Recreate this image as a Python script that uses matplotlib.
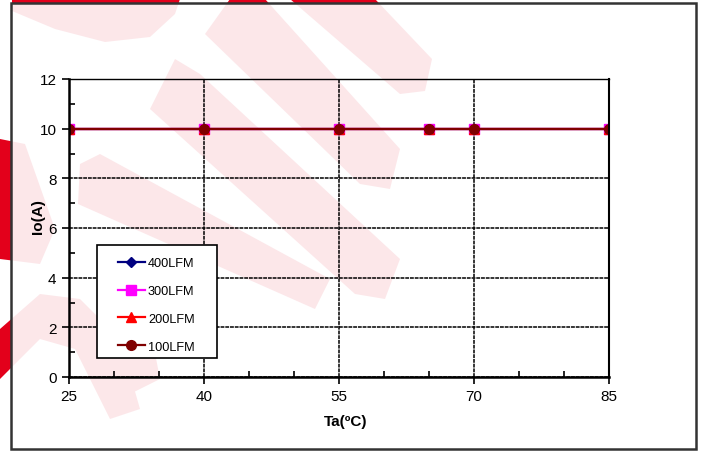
import matplotlib
matplotlib.use("Agg")
import matplotlib.pyplot as plt
from matplotlib.patches import Rectangle, Polygon
from matplotlib.ticker import MultipleLocator

plt.rcParams['font.family'] = ['Liberation Sans', 'DejaVu Sans']

# data
ta = [25, 40, 55, 65, 70, 85]
io_400 = [10, 10, 10, 10, 10, 10]
io_300 = [10, 10, 10, 10, 10, 10]
io_200 = [10, 10, 10, 10, 10, 10]
io_100 = [10, 10, 10, 10, 10, 10]
series = ['400LFM', '300LFM', '200LFM', '100LFM']
x_ticks = [25, 40, 55, 70, 85]

W, H = 702, 452
fig = plt.figure(figsize=(W / 100, H / 100), dpi=100)
fig.patch.set_facecolor('white')

# background layer in pixel coords: watermark + outer frame
bg = fig.add_axes([0, 0, 1, 1])
bg.set_xlim(0, W)
bg.set_ylim(H, 0)
bg.axis('off')
bg.set_zorder(0)

wm = '#e3001b'
shapes = [
    [(12, 0), (12, 12), (55, 30), (105, 43), (150, 38), (175, 15), (180, 0)],
    [(290, 0), (375, 0), (432, 60), (425, 92), (400, 95)],
    [(230, 0), (265, 0), (400, 150), (390, 190), (360, 185), (205, 35)],
    [(175, 60), (200, 75), (400, 260), (385, 300), (355, 295), (150, 110)],
    [(80, 165), (100, 155), (330, 280), (315, 310), (78, 205)],
    [(0, 140), (25, 145), (55, 230), (40, 265), (0, 260)],
    [(0, 330), (40, 295), (80, 300), (120, 340), (140, 410), (110, 420), (75, 350), (40, 340), (0, 380)],
    [(110, 255), (135, 250), (160, 380), (130, 395)],
]
for pts in shapes:
    bg.add_patch(Polygon(pts, closed=True, facecolor=wm, edgecolor='none', zorder=1))
bg.add_patch(Rectangle((11, 4), 685, 446, facecolor='white', alpha=0.91,
                       edgecolor='none', zorder=2))
bg.add_patch(Rectangle((11, 4), 685, 446, facecolor='none', edgecolor='#333333',
                       lw=1.8, zorder=3))

ax = fig.add_axes([69 / W, 1 - 378 / H, 540 / W, 298 / H])
ax.set_zorder(2)
ax.patch.set_alpha(0)

ax.plot(ta, io_400, color='#000080', lw=1.6, marker='D', ms=5, label=series[0])
ax.plot(ta, io_300, color='#ff00ff', lw=1.6, marker='s', ms=6.5, label=series[1])
ax.plot(ta, io_200, color='#ff0000', lw=1.6, marker='^', ms=6.5, label=series[2])
ax.plot(ta, io_100, color='#800000', lw=1.6, marker='o', ms=7, label=series[3])

ax.set_xlim(25, 85)
ax.set_ylim(0, 12)
ax.set_xticks(x_ticks)
ax.xaxis.set_minor_locator(MultipleLocator(5))
ax.yaxis.set_major_locator(MultipleLocator(2))
ax.yaxis.set_minor_locator(MultipleLocator(1))
ax.tick_params(which='major', direction='out', length=5, width=1.2, labelsize=11,
               colors='black', pad=4)
ax.tick_params(which='minor', direction='in', length=4, width=1.2)
ax.grid(True, which='major', color='black', lw=1.1, ls=(0, (2.5, 0.6)))
ax.set_axisbelow(True)

for s in ['left', 'bottom']:
    ax.spines[s].set_linewidth(1.8)
ax.spines['right'].set_linewidth(1.5)
ax.spines['top'].set_linewidth(1)

ax.set_xlabel('Ta(ºC)', fontsize=11, fontweight='bold', va='top')
ax.xaxis.set_label_coords(277 / 540, -37 / 298)
ax.set_ylabel('Io(A)', fontsize=11, fontweight='bold')
ax.yaxis.set_label_coords(-24 / 540, 161 / 298)

ax.add_patch(Rectangle((28 / 540, 19 / 298), 120 / 540, 113 / 298, transform=ax.transAxes,
                       facecolor='white', edgecolor='black', lw=1.2, zorder=4))
ax.legend(loc='upper left', bbox_to_anchor=(49 / 540, 120 / 298), borderaxespad=0,
          frameon=False, fontsize=9.2, handlelength=2.1, handletextpad=0.25,
          labelspacing=1.25, borderpad=0)

fig.savefig('out.png', dpi=100)
